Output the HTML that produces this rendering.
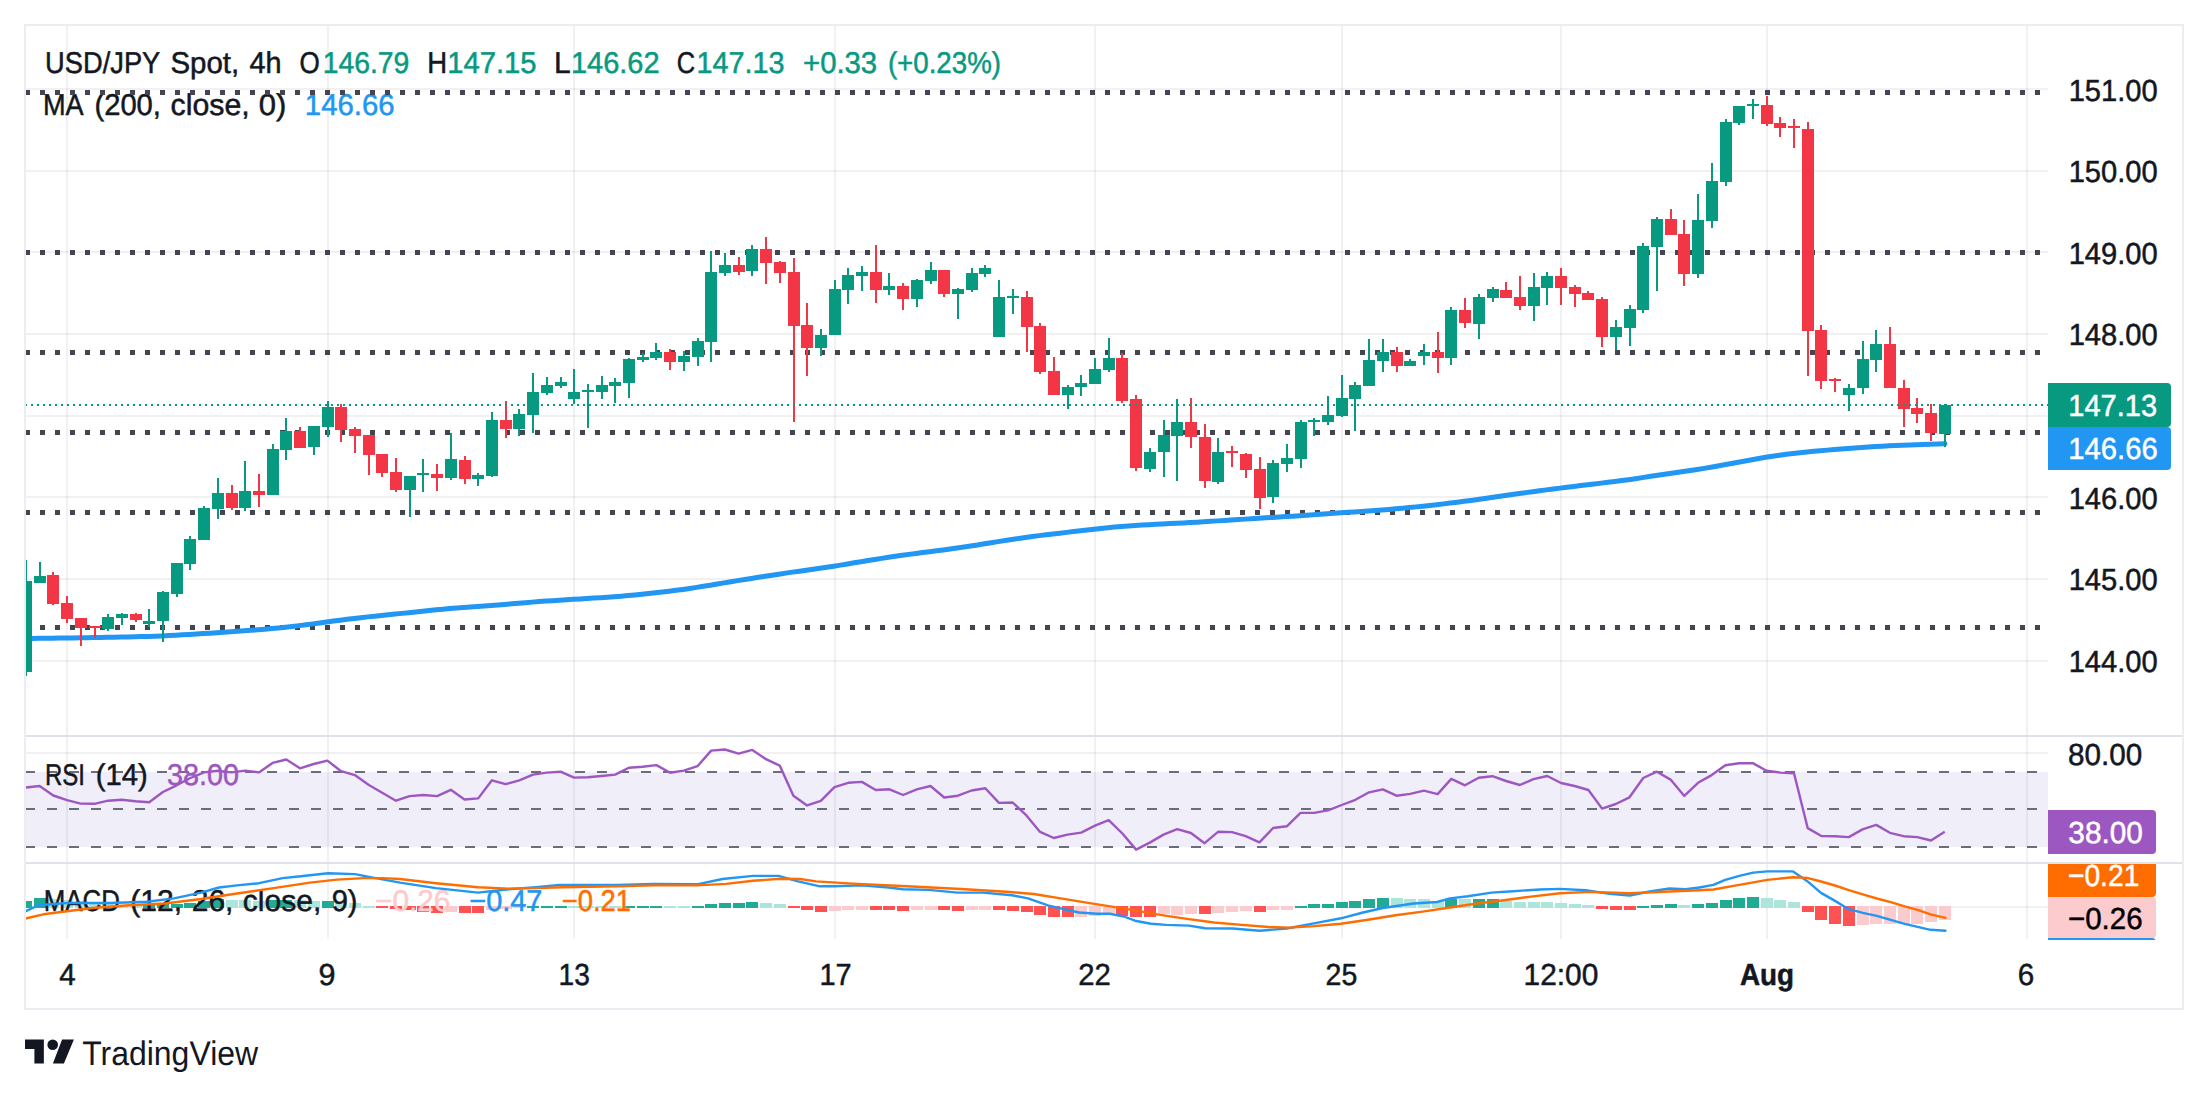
<!DOCTYPE html>
<html lang="en"><head><meta charset="utf-8"><title>USD/JPY Spot 4h chart</title>
<style>html,body{margin:0;padding:0;background:#fff;}svg{display:block;}text{font-family:"Liberation Sans",sans-serif;}</style>
</head><body>
<svg width="2208" height="1097" viewBox="0 0 2208 1097" text-rendering="geometricPrecision">
<rect width="2208" height="1097" fill="#fff"/>
<g id="grid" shape-rendering="crispEdges" fill="#2a2e39" fill-opacity="0.065">
<rect x="66" y="26" width="2" height="913"/>
<rect x="327" y="26" width="2" height="913"/>
<rect x="573" y="26" width="2" height="913"/>
<rect x="834" y="26" width="2" height="913"/>
<rect x="1094" y="26" width="2" height="913"/>
<rect x="1341" y="26" width="2" height="913"/>
<rect x="1560" y="26" width="2" height="913"/>
<rect x="1766" y="26" width="2" height="913"/>
<rect x="2026" y="26" width="2" height="913"/>
<rect x="26" y="88" width="2022" height="2"/>
<rect x="26" y="170" width="2022" height="2"/>
<rect x="26" y="251" width="2022" height="2"/>
<rect x="26" y="333" width="2022" height="2"/>
<rect x="26" y="415" width="2022" height="2"/>
<rect x="26" y="496" width="2022" height="2"/>
<rect x="26" y="578" width="2022" height="2"/>
<rect x="26" y="660" width="2022" height="2"/>
<rect x="26" y="752" width="2022" height="2"/>
<rect x="26" y="906" width="2022" height="2"/>
</g>
<rect x="26" y="772" width="2022" height="75" fill="#f0eef9" shape-rendering="crispEdges"/>
<g shape-rendering="crispEdges" fill="#2a2e39" fill-opacity="0.065">
<rect x="66" y="772" width="2" height="75"/>
<rect x="327" y="772" width="2" height="75"/>
<rect x="573" y="772" width="2" height="75"/>
<rect x="834" y="772" width="2" height="75"/>
<rect x="1094" y="772" width="2" height="75"/>
<rect x="1341" y="772" width="2" height="75"/>
<rect x="1560" y="772" width="2" height="75"/>
<rect x="1766" y="772" width="2" height="75"/>
<rect x="2026" y="772" width="2" height="75"/>
</g>
<g stroke="#6a6d7b" stroke-width="2" stroke-dasharray="10 12" shape-rendering="crispEdges">
<line x1="25" y1="772" x2="2040" y2="772"/>
<line x1="25" y1="809" x2="2040" y2="809"/>
<line x1="25" y1="847" x2="2040" y2="847"/>
</g>
<g clip-path="url(#pane2)" shape-rendering="crispEdges">
<defs><clipPath id="pane2"><rect x="25" y="864" width="2023" height="75"/></clipPath></defs>
<path fill="#22ab94" d="M20 901h12v7h-12zM34 898h12v10h-12zM143 905h12v3h-12zM157 904h12v4h-12zM171 904h12v4h-12zM184 903h12v5h-12zM198 901h12v7h-12zM212 899h12v9h-12zM267 900h12v8h-12zM280 900h12v8h-12zM322 901h12v7h-12zM527 906h12v2h-12zM541 906h12v2h-12zM555 906h12v2h-12zM623 906h12v2h-12zM637 906h12v2h-12zM650 906h12v2h-12zM692 906h12v2h-12zM705 904h12v4h-12zM719 903h12v5h-12zM733 903h12v5h-12zM746 902h12v6h-12zM1295 906h12v2h-12zM1308 904h12v4h-12zM1322 904h12v4h-12zM1336 902h12v6h-12zM1349 901h12v7h-12zM1363 899h12v9h-12zM1377 898h12v10h-12zM1445 899h12v9h-12zM1473 899h12v9h-12zM1487 899h12v9h-12zM1637 906h12v2h-12zM1651 905h12v3h-12zM1665 904h12v4h-12zM1692 904h12v4h-12zM1706 903h12v5h-12zM1720 900h12v8h-12zM1733 898h12v10h-12zM1747 897h12v11h-12z"/>
<path fill="#ace5dc" d="M47 899h12v9h-12zM61 900h12v8h-12zM75 901h12v7h-12zM89 903h12v5h-12zM102 904h12v4h-12zM116 905h12v3h-12zM130 905h12v3h-12zM226 900h12v8h-12zM239 900h12v8h-12zM253 901h12v7h-12zM294 900h12v8h-12zM308 901h12v7h-12zM335 902h12v6h-12zM349 903h12v5h-12zM363 906h12v2h-12zM568 906h12v2h-12zM582 906h12v2h-12zM596 906h12v2h-12zM609 906h12v2h-12zM664 906h12v2h-12zM678 906h12v2h-12zM760 903h12v5h-12zM774 904h12v4h-12zM1391 898h12v10h-12zM1404 899h12v9h-12zM1418 899h12v9h-12zM1432 901h12v7h-12zM1459 899h12v9h-12zM1500 901h12v7h-12zM1514 902h12v6h-12zM1528 902h12v6h-12zM1541 902h12v6h-12zM1555 903h12v5h-12zM1569 904h12v4h-12zM1582 905h12v3h-12zM1678 905h12v3h-12zM1761 898h12v10h-12zM1774 900h12v8h-12zM1788 902h12v6h-12z"/>
<path fill="#ff5252" d="M376 906h12v2h-12zM390 906h12v3h-12zM404 906h12v4h-12zM417 906h12v6h-12zM431 906h12v7h-12zM459 906h12v7h-12zM472 906h12v7h-12zM788 906h12v2h-12zM801 906h12v4h-12zM815 906h12v6h-12zM870 906h12v4h-12zM883 906h12v4h-12zM897 906h12v5h-12zM938 906h12v4h-12zM952 906h12v5h-12zM993 906h12v4h-12zM1007 906h12v5h-12zM1021 906h12v6h-12zM1034 906h12v9h-12zM1048 906h12v11h-12zM1062 906h12v11h-12zM1116 906h12v10h-12zM1130 906h12v11h-12zM1144 906h12v11h-12zM1199 906h12v8h-12zM1254 906h12v6h-12zM1596 906h12v3h-12zM1610 906h12v4h-12zM1624 906h12v4h-12zM1802 906h12v6h-12zM1815 906h12v14h-12zM1829 906h12v18h-12zM1843 906h12v20h-12z"/>
<path fill="#fccbcd" d="M445 906h12v6h-12zM486 906h12v4h-12zM500 906h12v3h-12zM513 906h12v2h-12zM829 906h12v5h-12zM842 906h12v4h-12zM856 906h12v4h-12zM911 906h12v4h-12zM925 906h12v4h-12zM966 906h12v4h-12zM979 906h12v4h-12zM1075 906h12v11h-12zM1089 906h12v10h-12zM1103 906h12v7h-12zM1158 906h12v8h-12zM1171 906h12v9h-12zM1185 906h12v8h-12zM1212 906h12v7h-12zM1226 906h12v6h-12zM1240 906h12v5h-12zM1267 906h12v4h-12zM1281 906h12v4h-12zM1857 906h12v19h-12zM1870 906h12v18h-12zM1884 906h12v18h-12zM1898 906h12v18h-12zM1911 906h12v18h-12zM1925 906h12v16h-12zM1939 906h12v14h-12z"/>
</g>
<text x="45.10" y="72.6" font-size="30" fill="#131722" stroke="#131722" stroke-width="0.5" textLength="115.20" lengthAdjust="spacingAndGlyphs">USD/JPY</text>
<text x="170.38" y="72.6" font-size="30" fill="#131722" stroke="#131722" stroke-width="0.5" textLength="68.82" lengthAdjust="spacingAndGlyphs">Spot,</text>
<text x="249.55" y="72.6" font-size="30" fill="#131722" stroke="#131722" stroke-width="0.5" textLength="32.07" lengthAdjust="spacingAndGlyphs">4h</text>
<text x="299.38" y="72.6" font-size="30" fill="#131722" stroke="#131722" stroke-width="0.5" textLength="20.25" lengthAdjust="spacingAndGlyphs">O</text>
<text x="322.63" y="72.6" font-size="30" fill="#089981" stroke="#089981" stroke-width="0.5" textLength="86.72" lengthAdjust="spacingAndGlyphs">146.79</text>
<text x="427.35" y="72.6" font-size="30" fill="#131722" stroke="#131722" stroke-width="0.5" textLength="19.90" lengthAdjust="spacingAndGlyphs">H</text>
<text x="447.17" y="72.6" font-size="30" fill="#089981" stroke="#089981" stroke-width="0.5" textLength="89.41" lengthAdjust="spacingAndGlyphs">147.15</text>
<text x="554.06" y="72.6" font-size="30" fill="#131722" stroke="#131722" stroke-width="0.5" textLength="16.69" lengthAdjust="spacingAndGlyphs">L</text>
<text x="570.89" y="72.6" font-size="30" fill="#089981" stroke="#089981" stroke-width="0.5" textLength="88.69" lengthAdjust="spacingAndGlyphs">146.62</text>
<text x="676.81" y="72.6" font-size="30" fill="#131722" stroke="#131722" stroke-width="0.5" textLength="18.37" lengthAdjust="spacingAndGlyphs">C</text>
<text x="696.40" y="72.6" font-size="30" fill="#089981" stroke="#089981" stroke-width="0.5" textLength="88.07" lengthAdjust="spacingAndGlyphs">147.13</text>
<text x="803.03" y="72.6" font-size="30" fill="#089981" stroke="#089981" stroke-width="0.5" textLength="74.16" lengthAdjust="spacingAndGlyphs">+0.33</text>
<text x="887.90" y="72.6" font-size="30" fill="#089981" stroke="#089981" stroke-width="0.5" textLength="113.13" lengthAdjust="spacingAndGlyphs">(+0.23%)</text>
<text x="42.98" y="114.7" font-size="30" fill="#131722" stroke="#131722" stroke-width="0.5" textLength="40.69" lengthAdjust="spacingAndGlyphs">MA</text>
<text x="94.43" y="114.7" font-size="30" fill="#131722" stroke="#131722" stroke-width="0.5" textLength="66.55" lengthAdjust="spacingAndGlyphs">(200,</text>
<text x="170.55" y="114.7" font-size="30" fill="#131722" stroke="#131722" stroke-width="0.5" textLength="79.11" lengthAdjust="spacingAndGlyphs">close,</text>
<text x="258.83" y="114.7" font-size="30" fill="#131722" stroke="#131722" stroke-width="0.5" textLength="27.57" lengthAdjust="spacingAndGlyphs">0)</text>
<text x="304.86" y="114.7" font-size="30" fill="#2196f3" stroke="#2196f3" stroke-width="0.5" textLength="89.83" lengthAdjust="spacingAndGlyphs">146.66</text>
<text x="44.98" y="784.5" font-size="30" fill="#131722" stroke="#131722" stroke-width="0.5" textLength="39.99" lengthAdjust="spacingAndGlyphs">RSI</text>
<text x="95.73" y="784.5" font-size="30" fill="#131722" stroke="#131722" stroke-width="0.5" textLength="51.88" lengthAdjust="spacingAndGlyphs">(14)</text>
<text x="167.10" y="784.5" font-size="30" fill="#9d57c1" stroke="#9d57c1" stroke-width="0.5" textLength="72.02" lengthAdjust="spacingAndGlyphs">38.00</text>
<text x="43.68" y="911.3" font-size="30" fill="#131722" stroke="#131722" stroke-width="0.5" textLength="76.22" lengthAdjust="spacingAndGlyphs">MACD</text>
<text x="130.39" y="911.3" font-size="30" fill="#131722" stroke="#131722" stroke-width="0.5" textLength="51.75" lengthAdjust="spacingAndGlyphs">(12,</text>
<text x="191.80" y="911.3" font-size="30" fill="#131722" stroke="#131722" stroke-width="0.5" textLength="41.64" lengthAdjust="spacingAndGlyphs">26,</text>
<text x="242.76" y="911.3" font-size="30" fill="#131722" stroke="#131722" stroke-width="0.5" textLength="78.48" lengthAdjust="spacingAndGlyphs">close,</text>
<text x="331.64" y="911.3" font-size="30" fill="#131722" stroke="#131722" stroke-width="0.5" textLength="25.87" lengthAdjust="spacingAndGlyphs">9)</text>
<text x="375.10" y="911.3" font-size="30" fill="#fccbcd" stroke="#fccbcd" stroke-width="0.5" textLength="75.30" lengthAdjust="spacingAndGlyphs">−0.26</text>
<text x="469.24" y="911.3" font-size="30" fill="#2196f3" stroke="#2196f3" stroke-width="0.5" textLength="73.23" lengthAdjust="spacingAndGlyphs">−0.47</text>
<text x="561.71" y="911.3" font-size="30" fill="#ff6d00" stroke="#ff6d00" stroke-width="0.5" textLength="69.40" lengthAdjust="spacingAndGlyphs">−0.21</text>
<g fill="#434651" shape-rendering="crispEdges">
<path d="M25 90h5v5h-5zM40 90h5v5h-5zM55 90h5v5h-5zM70 90h5v5h-5zM85 90h5v5h-5zM100 90h5v5h-5zM115 90h5v5h-5zM130 90h5v5h-5zM145 90h5v5h-5zM160 90h5v5h-5zM175 90h5v5h-5zM190 90h5v5h-5zM205 90h5v5h-5zM220 90h5v5h-5zM235 90h5v5h-5zM250 90h5v5h-5zM265 90h5v5h-5zM280 90h5v5h-5zM295 90h5v5h-5zM310 90h5v5h-5zM325 90h5v5h-5zM340 90h5v5h-5zM355 90h5v5h-5zM370 90h5v5h-5zM385 90h5v5h-5zM400 90h5v5h-5zM415 90h5v5h-5zM430 90h5v5h-5zM445 90h5v5h-5zM460 90h5v5h-5zM475 90h5v5h-5zM490 90h5v5h-5zM505 90h5v5h-5zM520 90h5v5h-5zM535 90h5v5h-5zM550 90h5v5h-5zM565 90h5v5h-5zM580 90h5v5h-5zM595 90h5v5h-5zM610 90h5v5h-5zM625 90h5v5h-5zM640 90h5v5h-5zM655 90h5v5h-5zM670 90h5v5h-5zM685 90h5v5h-5zM700 90h5v5h-5zM715 90h5v5h-5zM730 90h5v5h-5zM745 90h5v5h-5zM760 90h5v5h-5zM775 90h5v5h-5zM790 90h5v5h-5zM805 90h5v5h-5zM820 90h5v5h-5zM835 90h5v5h-5zM850 90h5v5h-5zM865 90h5v5h-5zM880 90h5v5h-5zM895 90h5v5h-5zM910 90h5v5h-5zM925 90h5v5h-5zM940 90h5v5h-5zM955 90h5v5h-5zM970 90h5v5h-5zM985 90h5v5h-5zM1000 90h5v5h-5zM1015 90h5v5h-5zM1030 90h5v5h-5zM1045 90h5v5h-5zM1060 90h5v5h-5zM1075 90h5v5h-5zM1090 90h5v5h-5zM1105 90h5v5h-5zM1120 90h5v5h-5zM1135 90h5v5h-5zM1150 90h5v5h-5zM1165 90h5v5h-5zM1180 90h5v5h-5zM1195 90h5v5h-5zM1210 90h5v5h-5zM1225 90h5v5h-5zM1240 90h5v5h-5zM1255 90h5v5h-5zM1270 90h5v5h-5zM1285 90h5v5h-5zM1300 90h5v5h-5zM1315 90h5v5h-5zM1330 90h5v5h-5zM1345 90h5v5h-5zM1360 90h5v5h-5zM1375 90h5v5h-5zM1390 90h5v5h-5zM1405 90h5v5h-5zM1420 90h5v5h-5zM1435 90h5v5h-5zM1450 90h5v5h-5zM1465 90h5v5h-5zM1480 90h5v5h-5zM1495 90h5v5h-5zM1510 90h5v5h-5zM1525 90h5v5h-5zM1540 90h5v5h-5zM1555 90h5v5h-5zM1570 90h5v5h-5zM1585 90h5v5h-5zM1600 90h5v5h-5zM1615 90h5v5h-5zM1630 90h5v5h-5zM1645 90h5v5h-5zM1660 90h5v5h-5zM1675 90h5v5h-5zM1690 90h5v5h-5zM1705 90h5v5h-5zM1720 90h5v5h-5zM1735 90h5v5h-5zM1750 90h5v5h-5zM1765 90h5v5h-5zM1780 90h5v5h-5zM1795 90h5v5h-5zM1810 90h5v5h-5zM1825 90h5v5h-5zM1840 90h5v5h-5zM1855 90h5v5h-5zM1870 90h5v5h-5zM1885 90h5v5h-5zM1900 90h5v5h-5zM1915 90h5v5h-5zM1930 90h5v5h-5zM1945 90h5v5h-5zM1960 90h5v5h-5zM1975 90h5v5h-5zM1990 90h5v5h-5zM2005 90h5v5h-5zM2020 90h5v5h-5zM2035 90h5v5h-5z"/>
<path d="M25 250h5v5h-5zM40 250h5v5h-5zM55 250h5v5h-5zM70 250h5v5h-5zM85 250h5v5h-5zM100 250h5v5h-5zM115 250h5v5h-5zM130 250h5v5h-5zM145 250h5v5h-5zM160 250h5v5h-5zM175 250h5v5h-5zM190 250h5v5h-5zM205 250h5v5h-5zM220 250h5v5h-5zM235 250h5v5h-5zM250 250h5v5h-5zM265 250h5v5h-5zM280 250h5v5h-5zM295 250h5v5h-5zM310 250h5v5h-5zM325 250h5v5h-5zM340 250h5v5h-5zM355 250h5v5h-5zM370 250h5v5h-5zM385 250h5v5h-5zM400 250h5v5h-5zM415 250h5v5h-5zM430 250h5v5h-5zM445 250h5v5h-5zM460 250h5v5h-5zM475 250h5v5h-5zM490 250h5v5h-5zM505 250h5v5h-5zM520 250h5v5h-5zM535 250h5v5h-5zM550 250h5v5h-5zM565 250h5v5h-5zM580 250h5v5h-5zM595 250h5v5h-5zM610 250h5v5h-5zM625 250h5v5h-5zM640 250h5v5h-5zM655 250h5v5h-5zM670 250h5v5h-5zM685 250h5v5h-5zM700 250h5v5h-5zM715 250h5v5h-5zM730 250h5v5h-5zM745 250h5v5h-5zM760 250h5v5h-5zM775 250h5v5h-5zM790 250h5v5h-5zM805 250h5v5h-5zM820 250h5v5h-5zM835 250h5v5h-5zM850 250h5v5h-5zM865 250h5v5h-5zM880 250h5v5h-5zM895 250h5v5h-5zM910 250h5v5h-5zM925 250h5v5h-5zM940 250h5v5h-5zM955 250h5v5h-5zM970 250h5v5h-5zM985 250h5v5h-5zM1000 250h5v5h-5zM1015 250h5v5h-5zM1030 250h5v5h-5zM1045 250h5v5h-5zM1060 250h5v5h-5zM1075 250h5v5h-5zM1090 250h5v5h-5zM1105 250h5v5h-5zM1120 250h5v5h-5zM1135 250h5v5h-5zM1150 250h5v5h-5zM1165 250h5v5h-5zM1180 250h5v5h-5zM1195 250h5v5h-5zM1210 250h5v5h-5zM1225 250h5v5h-5zM1240 250h5v5h-5zM1255 250h5v5h-5zM1270 250h5v5h-5zM1285 250h5v5h-5zM1300 250h5v5h-5zM1315 250h5v5h-5zM1330 250h5v5h-5zM1345 250h5v5h-5zM1360 250h5v5h-5zM1375 250h5v5h-5zM1390 250h5v5h-5zM1405 250h5v5h-5zM1420 250h5v5h-5zM1435 250h5v5h-5zM1450 250h5v5h-5zM1465 250h5v5h-5zM1480 250h5v5h-5zM1495 250h5v5h-5zM1510 250h5v5h-5zM1525 250h5v5h-5zM1540 250h5v5h-5zM1555 250h5v5h-5zM1570 250h5v5h-5zM1585 250h5v5h-5zM1600 250h5v5h-5zM1615 250h5v5h-5zM1630 250h5v5h-5zM1645 250h5v5h-5zM1660 250h5v5h-5zM1675 250h5v5h-5zM1690 250h5v5h-5zM1705 250h5v5h-5zM1720 250h5v5h-5zM1735 250h5v5h-5zM1750 250h5v5h-5zM1765 250h5v5h-5zM1780 250h5v5h-5zM1795 250h5v5h-5zM1810 250h5v5h-5zM1825 250h5v5h-5zM1840 250h5v5h-5zM1855 250h5v5h-5zM1870 250h5v5h-5zM1885 250h5v5h-5zM1900 250h5v5h-5zM1915 250h5v5h-5zM1930 250h5v5h-5zM1945 250h5v5h-5zM1960 250h5v5h-5zM1975 250h5v5h-5zM1990 250h5v5h-5zM2005 250h5v5h-5zM2020 250h5v5h-5zM2035 250h5v5h-5z"/>
<path d="M25 350h5v5h-5zM40 350h5v5h-5zM55 350h5v5h-5zM70 350h5v5h-5zM85 350h5v5h-5zM100 350h5v5h-5zM115 350h5v5h-5zM130 350h5v5h-5zM145 350h5v5h-5zM160 350h5v5h-5zM175 350h5v5h-5zM190 350h5v5h-5zM205 350h5v5h-5zM220 350h5v5h-5zM235 350h5v5h-5zM250 350h5v5h-5zM265 350h5v5h-5zM280 350h5v5h-5zM295 350h5v5h-5zM310 350h5v5h-5zM325 350h5v5h-5zM340 350h5v5h-5zM355 350h5v5h-5zM370 350h5v5h-5zM385 350h5v5h-5zM400 350h5v5h-5zM415 350h5v5h-5zM430 350h5v5h-5zM445 350h5v5h-5zM460 350h5v5h-5zM475 350h5v5h-5zM490 350h5v5h-5zM505 350h5v5h-5zM520 350h5v5h-5zM535 350h5v5h-5zM550 350h5v5h-5zM565 350h5v5h-5zM580 350h5v5h-5zM595 350h5v5h-5zM610 350h5v5h-5zM625 350h5v5h-5zM640 350h5v5h-5zM655 350h5v5h-5zM670 350h5v5h-5zM685 350h5v5h-5zM700 350h5v5h-5zM715 350h5v5h-5zM730 350h5v5h-5zM745 350h5v5h-5zM760 350h5v5h-5zM775 350h5v5h-5zM790 350h5v5h-5zM805 350h5v5h-5zM820 350h5v5h-5zM835 350h5v5h-5zM850 350h5v5h-5zM865 350h5v5h-5zM880 350h5v5h-5zM895 350h5v5h-5zM910 350h5v5h-5zM925 350h5v5h-5zM940 350h5v5h-5zM955 350h5v5h-5zM970 350h5v5h-5zM985 350h5v5h-5zM1000 350h5v5h-5zM1015 350h5v5h-5zM1030 350h5v5h-5zM1045 350h5v5h-5zM1060 350h5v5h-5zM1075 350h5v5h-5zM1090 350h5v5h-5zM1105 350h5v5h-5zM1120 350h5v5h-5zM1135 350h5v5h-5zM1150 350h5v5h-5zM1165 350h5v5h-5zM1180 350h5v5h-5zM1195 350h5v5h-5zM1210 350h5v5h-5zM1225 350h5v5h-5zM1240 350h5v5h-5zM1255 350h5v5h-5zM1270 350h5v5h-5zM1285 350h5v5h-5zM1300 350h5v5h-5zM1315 350h5v5h-5zM1330 350h5v5h-5zM1345 350h5v5h-5zM1360 350h5v5h-5zM1375 350h5v5h-5zM1390 350h5v5h-5zM1405 350h5v5h-5zM1420 350h5v5h-5zM1435 350h5v5h-5zM1450 350h5v5h-5zM1465 350h5v5h-5zM1480 350h5v5h-5zM1495 350h5v5h-5zM1510 350h5v5h-5zM1525 350h5v5h-5zM1540 350h5v5h-5zM1555 350h5v5h-5zM1570 350h5v5h-5zM1585 350h5v5h-5zM1600 350h5v5h-5zM1615 350h5v5h-5zM1630 350h5v5h-5zM1645 350h5v5h-5zM1660 350h5v5h-5zM1675 350h5v5h-5zM1690 350h5v5h-5zM1705 350h5v5h-5zM1720 350h5v5h-5zM1735 350h5v5h-5zM1750 350h5v5h-5zM1765 350h5v5h-5zM1780 350h5v5h-5zM1795 350h5v5h-5zM1810 350h5v5h-5zM1825 350h5v5h-5zM1840 350h5v5h-5zM1855 350h5v5h-5zM1870 350h5v5h-5zM1885 350h5v5h-5zM1900 350h5v5h-5zM1915 350h5v5h-5zM1930 350h5v5h-5zM1945 350h5v5h-5zM1960 350h5v5h-5zM1975 350h5v5h-5zM1990 350h5v5h-5zM2005 350h5v5h-5zM2020 350h5v5h-5zM2035 350h5v5h-5z"/>
<path d="M25 430h5v5h-5zM40 430h5v5h-5zM55 430h5v5h-5zM70 430h5v5h-5zM85 430h5v5h-5zM100 430h5v5h-5zM115 430h5v5h-5zM130 430h5v5h-5zM145 430h5v5h-5zM160 430h5v5h-5zM175 430h5v5h-5zM190 430h5v5h-5zM205 430h5v5h-5zM220 430h5v5h-5zM235 430h5v5h-5zM250 430h5v5h-5zM265 430h5v5h-5zM280 430h5v5h-5zM295 430h5v5h-5zM310 430h5v5h-5zM325 430h5v5h-5zM340 430h5v5h-5zM355 430h5v5h-5zM370 430h5v5h-5zM385 430h5v5h-5zM400 430h5v5h-5zM415 430h5v5h-5zM430 430h5v5h-5zM445 430h5v5h-5zM460 430h5v5h-5zM475 430h5v5h-5zM490 430h5v5h-5zM505 430h5v5h-5zM520 430h5v5h-5zM535 430h5v5h-5zM550 430h5v5h-5zM565 430h5v5h-5zM580 430h5v5h-5zM595 430h5v5h-5zM610 430h5v5h-5zM625 430h5v5h-5zM640 430h5v5h-5zM655 430h5v5h-5zM670 430h5v5h-5zM685 430h5v5h-5zM700 430h5v5h-5zM715 430h5v5h-5zM730 430h5v5h-5zM745 430h5v5h-5zM760 430h5v5h-5zM775 430h5v5h-5zM790 430h5v5h-5zM805 430h5v5h-5zM820 430h5v5h-5zM835 430h5v5h-5zM850 430h5v5h-5zM865 430h5v5h-5zM880 430h5v5h-5zM895 430h5v5h-5zM910 430h5v5h-5zM925 430h5v5h-5zM940 430h5v5h-5zM955 430h5v5h-5zM970 430h5v5h-5zM985 430h5v5h-5zM1000 430h5v5h-5zM1015 430h5v5h-5zM1030 430h5v5h-5zM1045 430h5v5h-5zM1060 430h5v5h-5zM1075 430h5v5h-5zM1090 430h5v5h-5zM1105 430h5v5h-5zM1120 430h5v5h-5zM1135 430h5v5h-5zM1150 430h5v5h-5zM1165 430h5v5h-5zM1180 430h5v5h-5zM1195 430h5v5h-5zM1210 430h5v5h-5zM1225 430h5v5h-5zM1240 430h5v5h-5zM1255 430h5v5h-5zM1270 430h5v5h-5zM1285 430h5v5h-5zM1300 430h5v5h-5zM1315 430h5v5h-5zM1330 430h5v5h-5zM1345 430h5v5h-5zM1360 430h5v5h-5zM1375 430h5v5h-5zM1390 430h5v5h-5zM1405 430h5v5h-5zM1420 430h5v5h-5zM1435 430h5v5h-5zM1450 430h5v5h-5zM1465 430h5v5h-5zM1480 430h5v5h-5zM1495 430h5v5h-5zM1510 430h5v5h-5zM1525 430h5v5h-5zM1540 430h5v5h-5zM1555 430h5v5h-5zM1570 430h5v5h-5zM1585 430h5v5h-5zM1600 430h5v5h-5zM1615 430h5v5h-5zM1630 430h5v5h-5zM1645 430h5v5h-5zM1660 430h5v5h-5zM1675 430h5v5h-5zM1690 430h5v5h-5zM1705 430h5v5h-5zM1720 430h5v5h-5zM1735 430h5v5h-5zM1750 430h5v5h-5zM1765 430h5v5h-5zM1780 430h5v5h-5zM1795 430h5v5h-5zM1810 430h5v5h-5zM1825 430h5v5h-5zM1840 430h5v5h-5zM1855 430h5v5h-5zM1870 430h5v5h-5zM1885 430h5v5h-5zM1900 430h5v5h-5zM1915 430h5v5h-5zM1930 430h5v5h-5zM1945 430h5v5h-5zM1960 430h5v5h-5zM1975 430h5v5h-5zM1990 430h5v5h-5zM2005 430h5v5h-5zM2020 430h5v5h-5zM2035 430h5v5h-5z"/>
<path d="M25 510h5v5h-5zM40 510h5v5h-5zM55 510h5v5h-5zM70 510h5v5h-5zM85 510h5v5h-5zM100 510h5v5h-5zM115 510h5v5h-5zM130 510h5v5h-5zM145 510h5v5h-5zM160 510h5v5h-5zM175 510h5v5h-5zM190 510h5v5h-5zM205 510h5v5h-5zM220 510h5v5h-5zM235 510h5v5h-5zM250 510h5v5h-5zM265 510h5v5h-5zM280 510h5v5h-5zM295 510h5v5h-5zM310 510h5v5h-5zM325 510h5v5h-5zM340 510h5v5h-5zM355 510h5v5h-5zM370 510h5v5h-5zM385 510h5v5h-5zM400 510h5v5h-5zM415 510h5v5h-5zM430 510h5v5h-5zM445 510h5v5h-5zM460 510h5v5h-5zM475 510h5v5h-5zM490 510h5v5h-5zM505 510h5v5h-5zM520 510h5v5h-5zM535 510h5v5h-5zM550 510h5v5h-5zM565 510h5v5h-5zM580 510h5v5h-5zM595 510h5v5h-5zM610 510h5v5h-5zM625 510h5v5h-5zM640 510h5v5h-5zM655 510h5v5h-5zM670 510h5v5h-5zM685 510h5v5h-5zM700 510h5v5h-5zM715 510h5v5h-5zM730 510h5v5h-5zM745 510h5v5h-5zM760 510h5v5h-5zM775 510h5v5h-5zM790 510h5v5h-5zM805 510h5v5h-5zM820 510h5v5h-5zM835 510h5v5h-5zM850 510h5v5h-5zM865 510h5v5h-5zM880 510h5v5h-5zM895 510h5v5h-5zM910 510h5v5h-5zM925 510h5v5h-5zM940 510h5v5h-5zM955 510h5v5h-5zM970 510h5v5h-5zM985 510h5v5h-5zM1000 510h5v5h-5zM1015 510h5v5h-5zM1030 510h5v5h-5zM1045 510h5v5h-5zM1060 510h5v5h-5zM1075 510h5v5h-5zM1090 510h5v5h-5zM1105 510h5v5h-5zM1120 510h5v5h-5zM1135 510h5v5h-5zM1150 510h5v5h-5zM1165 510h5v5h-5zM1180 510h5v5h-5zM1195 510h5v5h-5zM1210 510h5v5h-5zM1225 510h5v5h-5zM1240 510h5v5h-5zM1255 510h5v5h-5zM1270 510h5v5h-5zM1285 510h5v5h-5zM1300 510h5v5h-5zM1315 510h5v5h-5zM1330 510h5v5h-5zM1345 510h5v5h-5zM1360 510h5v5h-5zM1375 510h5v5h-5zM1390 510h5v5h-5zM1405 510h5v5h-5zM1420 510h5v5h-5zM1435 510h5v5h-5zM1450 510h5v5h-5zM1465 510h5v5h-5zM1480 510h5v5h-5zM1495 510h5v5h-5zM1510 510h5v5h-5zM1525 510h5v5h-5zM1540 510h5v5h-5zM1555 510h5v5h-5zM1570 510h5v5h-5zM1585 510h5v5h-5zM1600 510h5v5h-5zM1615 510h5v5h-5zM1630 510h5v5h-5zM1645 510h5v5h-5zM1660 510h5v5h-5zM1675 510h5v5h-5zM1690 510h5v5h-5zM1705 510h5v5h-5zM1720 510h5v5h-5zM1735 510h5v5h-5zM1750 510h5v5h-5zM1765 510h5v5h-5zM1780 510h5v5h-5zM1795 510h5v5h-5zM1810 510h5v5h-5zM1825 510h5v5h-5zM1840 510h5v5h-5zM1855 510h5v5h-5zM1870 510h5v5h-5zM1885 510h5v5h-5zM1900 510h5v5h-5zM1915 510h5v5h-5zM1930 510h5v5h-5zM1945 510h5v5h-5zM1960 510h5v5h-5zM1975 510h5v5h-5zM1990 510h5v5h-5zM2005 510h5v5h-5zM2020 510h5v5h-5zM2035 510h5v5h-5z"/>
<path d="M25 625h5v5h-5zM40 625h5v5h-5zM55 625h5v5h-5zM70 625h5v5h-5zM85 625h5v5h-5zM100 625h5v5h-5zM115 625h5v5h-5zM130 625h5v5h-5zM145 625h5v5h-5zM160 625h5v5h-5zM175 625h5v5h-5zM190 625h5v5h-5zM205 625h5v5h-5zM220 625h5v5h-5zM235 625h5v5h-5zM250 625h5v5h-5zM265 625h5v5h-5zM280 625h5v5h-5zM295 625h5v5h-5zM310 625h5v5h-5zM325 625h5v5h-5zM340 625h5v5h-5zM355 625h5v5h-5zM370 625h5v5h-5zM385 625h5v5h-5zM400 625h5v5h-5zM415 625h5v5h-5zM430 625h5v5h-5zM445 625h5v5h-5zM460 625h5v5h-5zM475 625h5v5h-5zM490 625h5v5h-5zM505 625h5v5h-5zM520 625h5v5h-5zM535 625h5v5h-5zM550 625h5v5h-5zM565 625h5v5h-5zM580 625h5v5h-5zM595 625h5v5h-5zM610 625h5v5h-5zM625 625h5v5h-5zM640 625h5v5h-5zM655 625h5v5h-5zM670 625h5v5h-5zM685 625h5v5h-5zM700 625h5v5h-5zM715 625h5v5h-5zM730 625h5v5h-5zM745 625h5v5h-5zM760 625h5v5h-5zM775 625h5v5h-5zM790 625h5v5h-5zM805 625h5v5h-5zM820 625h5v5h-5zM835 625h5v5h-5zM850 625h5v5h-5zM865 625h5v5h-5zM880 625h5v5h-5zM895 625h5v5h-5zM910 625h5v5h-5zM925 625h5v5h-5zM940 625h5v5h-5zM955 625h5v5h-5zM970 625h5v5h-5zM985 625h5v5h-5zM1000 625h5v5h-5zM1015 625h5v5h-5zM1030 625h5v5h-5zM1045 625h5v5h-5zM1060 625h5v5h-5zM1075 625h5v5h-5zM1090 625h5v5h-5zM1105 625h5v5h-5zM1120 625h5v5h-5zM1135 625h5v5h-5zM1150 625h5v5h-5zM1165 625h5v5h-5zM1180 625h5v5h-5zM1195 625h5v5h-5zM1210 625h5v5h-5zM1225 625h5v5h-5zM1240 625h5v5h-5zM1255 625h5v5h-5zM1270 625h5v5h-5zM1285 625h5v5h-5zM1300 625h5v5h-5zM1315 625h5v5h-5zM1330 625h5v5h-5zM1345 625h5v5h-5zM1360 625h5v5h-5zM1375 625h5v5h-5zM1390 625h5v5h-5zM1405 625h5v5h-5zM1420 625h5v5h-5zM1435 625h5v5h-5zM1450 625h5v5h-5zM1465 625h5v5h-5zM1480 625h5v5h-5zM1495 625h5v5h-5zM1510 625h5v5h-5zM1525 625h5v5h-5zM1540 625h5v5h-5zM1555 625h5v5h-5zM1570 625h5v5h-5zM1585 625h5v5h-5zM1600 625h5v5h-5zM1615 625h5v5h-5zM1630 625h5v5h-5zM1645 625h5v5h-5zM1660 625h5v5h-5zM1675 625h5v5h-5zM1690 625h5v5h-5zM1705 625h5v5h-5zM1720 625h5v5h-5zM1735 625h5v5h-5zM1750 625h5v5h-5zM1765 625h5v5h-5zM1780 625h5v5h-5zM1795 625h5v5h-5zM1810 625h5v5h-5zM1825 625h5v5h-5zM1840 625h5v5h-5zM1855 625h5v5h-5zM1870 625h5v5h-5zM1885 625h5v5h-5zM1900 625h5v5h-5zM1915 625h5v5h-5zM1930 625h5v5h-5zM1945 625h5v5h-5zM1960 625h5v5h-5zM1975 625h5v5h-5zM1990 625h5v5h-5zM2005 625h5v5h-5zM2020 625h5v5h-5zM2035 625h5v5h-5z"/>
</g>
<defs><clipPath id="pane"><rect x="26" y="26" width="2022" height="709"/></clipPath></defs>
<polyline clip-path="url(#pane)" points="25.0,638.50 31.9,638.43 38.7,638.36 45.6,638.28 52.4,638.20 59.3,638.10 66.1,638.01 73.0,637.91 79.8,637.81 86.7,637.70 93.5,637.58 100.4,637.46 107.2,637.34 114.1,637.20 120.9,637.07 127.8,636.92 134.6,636.77 141.5,636.59 148.4,636.40 155.2,636.16 162.1,635.88 168.9,635.56 175.8,635.21 182.6,634.83 189.5,634.43 196.3,634.02 203.2,633.60 210.0,633.18 216.9,632.74 223.7,632.29 230.6,631.82 237.4,631.34 244.3,630.83 251.1,630.31 258.0,629.77 264.9,629.20 271.7,628.58 278.6,627.92 285.4,627.21 292.3,626.45 299.1,625.63 306.0,624.77 312.8,623.87 319.7,622.94 326.5,622.01 333.4,621.09 340.2,620.18 347.1,619.30 353.9,618.46 360.8,617.66 367.7,616.89 374.5,616.15 381.4,615.43 388.2,614.74 395.1,614.05 401.9,613.37 408.8,612.67 415.6,611.95 422.5,611.23 429.3,610.51 436.2,609.82 443.0,609.17 449.9,608.58 456.7,608.04 463.6,607.53 470.4,607.04 477.3,606.55 484.2,606.05 491.0,605.53 497.9,604.98 504.7,604.42 511.6,603.84 518.4,603.26 525.3,602.69 532.1,602.13 539.0,601.60 545.8,601.10 552.7,600.64 559.5,600.19 566.4,599.77 573.2,599.35 580.1,598.93 586.9,598.51 593.8,598.08 600.7,597.64 607.5,597.18 614.4,596.70 621.2,596.18 628.1,595.61 634.9,594.99 641.8,594.31 648.6,593.58 655.5,592.81 662.3,592.01 669.2,591.18 676.0,590.32 682.9,589.41 689.7,588.44 696.6,587.40 703.4,586.30 710.3,585.16 717.2,584.01 724.0,582.86 730.9,581.72 737.7,580.60 744.6,579.50 751.4,578.41 758.3,577.32 765.1,576.25 772.0,575.19 778.8,574.16 785.7,573.14 792.5,572.15 799.4,571.17 806.2,570.19 813.1,569.22 819.9,568.23 826.8,567.23 833.7,566.18 840.5,565.10 847.4,563.98 854.2,562.84 861.1,561.69 867.9,560.55 874.8,559.43 881.6,558.35 888.5,557.30 895.3,556.29 902.2,555.31 909.0,554.37 915.9,553.45 922.7,552.55 929.6,551.66 936.4,550.79 943.3,549.91 950.2,549.01 957.0,548.08 963.9,547.09 970.7,546.05 977.6,544.96 984.4,543.84 991.3,542.71 998.1,541.60 1005.0,540.50 1011.8,539.45 1018.7,538.43 1025.5,537.46 1032.4,536.53 1039.2,535.64 1046.1,534.79 1053.0,533.96 1059.8,533.16 1066.7,532.37 1073.5,531.58 1080.4,530.80 1087.2,530.01 1094.1,529.23 1100.9,528.48 1107.8,527.76 1114.6,527.11 1121.5,526.52 1128.3,526.00 1135.2,525.52 1142.0,525.09 1148.9,524.69 1155.7,524.32 1162.6,523.96 1169.5,523.60 1176.3,523.25 1183.2,522.89 1190.0,522.52 1196.9,522.14 1203.7,521.74 1210.6,521.32 1217.4,520.88 1224.3,520.44 1231.1,520.00 1238.0,519.56 1244.8,519.12 1251.7,518.70 1258.5,518.28 1265.4,517.86 1272.2,517.45 1279.1,517.02 1286.0,516.59 1292.8,516.14 1299.7,515.67 1306.5,515.19 1313.4,514.70 1320.2,514.21 1327.1,513.72 1333.9,513.25 1340.8,512.79 1347.6,512.35 1354.5,511.90 1361.3,511.45 1368.2,510.99 1375.0,510.50 1381.9,509.99 1388.7,509.44 1395.6,508.85 1402.5,508.23 1409.3,507.57 1416.2,506.88 1423.0,506.17 1429.9,505.43 1436.7,504.67 1443.6,503.89 1450.4,503.07 1457.3,502.23 1464.1,501.34 1471.0,500.43 1477.8,499.48 1484.7,498.51 1491.5,497.53 1498.4,496.53 1505.2,495.53 1512.1,494.55 1519.0,493.58 1525.8,492.63 1532.7,491.70 1539.5,490.79 1546.4,489.89 1553.2,489.00 1560.1,488.13 1566.9,487.26 1573.8,486.40 1580.6,485.56 1587.5,484.74 1594.3,483.93 1601.2,483.12 1608.0,482.30 1614.9,481.46 1621.7,480.58 1628.6,479.65 1635.5,478.66 1642.3,477.63 1649.2,476.58 1656.0,475.53 1662.9,474.50 1669.7,473.50 1676.6,472.51 1683.4,471.53 1690.3,470.52 1697.1,469.48 1704.0,468.39 1710.8,467.24 1717.7,466.04 1724.5,464.80 1731.4,463.52 1738.3,462.22 1745.1,460.94 1752.0,459.68 1758.8,458.47 1765.7,457.32 1772.5,456.25 1779.4,455.24 1786.2,454.30 1793.1,453.44 1799.9,452.66 1806.8,451.95 1813.6,451.30 1820.5,450.70 1827.3,450.12 1834.2,449.56 1841.0,449.02 1847.9,448.49 1854.8,447.98 1861.6,447.48 1868.5,447.01 1875.3,446.58 1882.2,446.18 1889.0,445.82 1895.9,445.49 1902.7,445.20 1909.6,444.93 1916.4,444.68 1923.3,444.43 1930.1,444.19 1937.0,443.94 1945.0,443.70" fill="none" stroke="#2196f3" stroke-width="5" stroke-linejoin="round" stroke-linecap="round"/>
<g clip-path="url(#pane)" shape-rendering="crispEdges">
<path fill="#089981" d="M25 560h2v116h-2zM20 581h12v91h-12zM39 562h2v21h-2zM34 576h12v7h-12zM107 614h2v17h-2zM102 617h12v12h-12zM121 613h2v12h-2zM116 614h12v4h-12zM148 609h2v18h-2zM143 621h12v3h-12zM162 591h2v51h-2zM157 592h12v29h-12zM176 563h2v34h-2zM171 563h12v31h-12zM189 536h2v34h-2zM184 539h12v25h-12zM203 506h2v34h-2zM198 508h12v32h-12zM217 478h2v41h-2zM212 493h12v16h-12zM244 461h2v50h-2zM239 491h12v17h-12zM272 444h2v51h-2zM267 449h12v46h-12zM285 418h2v42h-2zM280 431h12v19h-12zM313 426h2v29h-2zM308 426h12v21h-12zM327 401h2v36h-2zM322 407h12v20h-12zM409 476h2v41h-2zM404 476h12v14h-12zM422 459h2v33h-2zM417 473h12v2h-12zM450 433h2v47h-2zM445 459h12v19h-12zM477 473h2v13h-2zM472 475h12v4h-12zM491 412h2v65h-2zM486 420h12v56h-12zM518 409h2v27h-2zM513 414h12v15h-12zM532 373h2v60h-2zM527 392h12v23h-12zM546 377h2v18h-2zM541 385h12v8h-12zM560 377h2v11h-2zM555 382h12v4h-12zM573 369h2v35h-2zM568 392h12v7h-12zM587 384h2v44h-2zM582 390h12v2h-12zM601 376h2v23h-2zM596 385h12v7h-12zM614 378h2v25h-2zM609 382h12v4h-12zM628 358h2v40h-2zM623 359h12v24h-12zM642 353h2v9h-2zM637 357h12v3h-12zM655 343h2v17h-2zM650 352h12v6h-12zM683 351h2v20h-2zM678 356h12v6h-12zM697 338h2v28h-2zM692 341h12v16h-12zM710 251h2v111h-2zM705 272h12v70h-12zM724 253h2v23h-2zM719 265h12v8h-12zM751 245h2v31h-2zM746 249h12v22h-12zM820 329h2v27h-2zM815 335h12v13h-12zM834 280h2v55h-2zM829 289h12v46h-12zM847 268h2v36h-2zM842 275h12v15h-12zM861 266h2v25h-2zM856 272h12v4h-12zM888 273h2v22h-2zM883 286h12v4h-12zM916 279h2v28h-2zM911 280h12v19h-12zM930 262h2v22h-2zM925 270h12v11h-12zM957 288h2v31h-2zM952 289h12v5h-12zM971 268h2v24h-2zM966 273h12v17h-12zM984 265h2v12h-2zM979 268h12v6h-12zM998 280h2v57h-2zM993 297h12v40h-12zM1012 289h2v25h-2zM1007 296h12v2h-12zM1067 385h2v24h-2zM1062 387h12v8h-12zM1080 375h2v21h-2zM1075 383h12v4h-12zM1094 358h2v26h-2zM1089 369h12v15h-12zM1108 338h2v34h-2zM1103 358h12v12h-12zM1149 448h2v24h-2zM1144 452h12v17h-12zM1163 420h2v57h-2zM1158 435h12v17h-12zM1176 399h2v82h-2zM1171 422h12v14h-12zM1217 438h2v46h-2zM1212 452h12v30h-12zM1272 460h2v43h-2zM1267 463h12v34h-12zM1286 444h2v28h-2zM1281 458h12v6h-12zM1300 420h2v48h-2zM1295 422h12v37h-12zM1313 418h2v18h-2zM1308 420h12v2h-12zM1327 396h2v29h-2zM1322 415h12v7h-12zM1341 375h2v42h-2zM1336 398h12v18h-12zM1354 382h2v49h-2zM1349 385h12v14h-12zM1368 339h2v47h-2zM1363 360h12v26h-12zM1382 339h2v33h-2zM1377 352h12v9h-12zM1409 359h2v7h-2zM1404 361h12v5h-12zM1423 344h2v21h-2zM1418 352h12v4h-12zM1450 307h2v58h-2zM1445 310h12v48h-12zM1478 294h2v45h-2zM1473 297h12v27h-12zM1492 287h2v15h-2zM1487 289h12v9h-12zM1533 273h2v48h-2zM1528 287h12v19h-12zM1546 272h2v33h-2zM1541 276h12v12h-12zM1615 320h2v30h-2zM1610 327h12v10h-12zM1629 305h2v41h-2zM1624 309h12v19h-12zM1642 243h2v70h-2zM1637 246h12v64h-12zM1656 217h2v74h-2zM1651 219h12v28h-12zM1697 194h2v84h-2zM1692 220h12v54h-12zM1711 163h2v65h-2zM1706 181h12v40h-12zM1725 119h2v67h-2zM1720 122h12v60h-12zM1738 106h2v19h-2zM1733 106h12v17h-12zM1752 99h2v20h-2zM1747 104h12v2h-12zM1848 384h2v27h-2zM1843 388h12v7h-12zM1862 341h2v53h-2zM1857 359h12v29h-12zM1875 330h2v42h-2zM1870 344h12v16h-12zM1944 404h2v43h-2zM1939 405h12v29h-12z"/>
<path fill="#f23645" d="M52 572h2v33h-2zM47 575h12v29h-12zM66 596h2v27h-2zM61 603h12v16h-12zM80 618h2v28h-2zM75 618h12v10h-12zM94 626h2v12h-2zM89 626h12v2h-12zM135 613h2v9h-2zM130 614h12v6h-12zM231 485h2v25h-2zM226 493h12v15h-12zM258 474h2v33h-2zM253 491h12v4h-12zM299 427h2v21h-2zM294 431h12v17h-12zM340 404h2v38h-2zM335 407h12v23h-12zM354 427h2v26h-2zM349 429h12v7h-12zM368 435h2v40h-2zM363 435h12v20h-12zM381 454h2v23h-2zM376 454h12v19h-12zM395 458h2v34h-2zM390 472h12v18h-12zM436 464h2v27h-2zM431 474h12v4h-12zM464 456h2v28h-2zM459 460h12v19h-12zM505 401h2v37h-2zM500 420h12v9h-12zM669 349h2v21h-2zM664 352h12v10h-12zM738 257h2v18h-2zM733 265h12v7h-12zM765 237h2v47h-2zM760 249h12v14h-12zM779 261h2v22h-2zM774 262h12v11h-12zM793 258h2v164h-2zM788 272h12v54h-12zM806 303h2v73h-2zM801 325h12v23h-12zM875 245h2v58h-2zM870 272h12v18h-12zM902 283h2v27h-2zM897 286h12v13h-12zM943 270h2v27h-2zM938 270h12v24h-12zM1026 291h2v61h-2zM1021 297h12v30h-12zM1039 323h2v51h-2zM1034 326h12v46h-12zM1053 357h2v38h-2zM1048 371h12v24h-12zM1121 353h2v50h-2zM1116 358h12v43h-12zM1135 395h2v76h-2zM1130 399h12v69h-12zM1190 398h2v50h-2zM1185 422h12v15h-12zM1204 424h2v64h-2zM1199 437h12v44h-12zM1231 446h2v21h-2zM1226 451h12v2h-12zM1245 453h2v25h-2zM1240 454h12v16h-12zM1259 457h2v52h-2zM1254 469h12v29h-12zM1396 347h2v25h-2zM1391 352h12v14h-12zM1437 332h2v41h-2zM1432 352h12v6h-12zM1464 298h2v30h-2zM1459 310h12v13h-12zM1505 282h2v16h-2zM1500 290h12v8h-12zM1519 276h2v34h-2zM1514 297h12v9h-12zM1560 268h2v37h-2zM1555 276h12v12h-12zM1574 285h2v22h-2zM1569 287h12v7h-12zM1587 291h2v9h-2zM1582 293h12v7h-12zM1601 297h2v50h-2zM1596 299h12v38h-12zM1670 209h2v26h-2zM1665 219h12v16h-12zM1683 220h2v66h-2zM1678 234h12v40h-12zM1766 96h2v30h-2zM1761 105h12v19h-12zM1779 117h2v20h-2zM1774 123h12v5h-12zM1793 119h2v29h-2zM1788 126h12v2h-12zM1807 122h2v254h-2zM1802 129h12v202h-12zM1820 325h2v64h-2zM1815 330h12v51h-12zM1834 378h2v14h-2zM1829 379h12v2h-12zM1889 327h2v61h-2zM1884 344h12v44h-12zM1903 380h2v47h-2zM1898 388h12v21h-12zM1916 398h2v25h-2zM1911 408h12v6h-12zM1930 404h2v37h-2zM1925 413h12v20h-12z"/>
</g>
<path fill="#089981" shape-rendering="crispEdges" d="M25 404h2v2h-2zM31 404h2v2h-2zM37 404h2v2h-2zM43 404h2v2h-2zM49 404h2v2h-2zM55 404h2v2h-2zM61 404h2v2h-2zM67 404h2v2h-2zM73 404h2v2h-2zM79 404h2v2h-2zM85 404h2v2h-2zM91 404h2v2h-2zM97 404h2v2h-2zM103 404h2v2h-2zM109 404h2v2h-2zM115 404h2v2h-2zM121 404h2v2h-2zM127 404h2v2h-2zM133 404h2v2h-2zM139 404h2v2h-2zM145 404h2v2h-2zM151 404h2v2h-2zM157 404h2v2h-2zM163 404h2v2h-2zM169 404h2v2h-2zM175 404h2v2h-2zM181 404h2v2h-2zM187 404h2v2h-2zM193 404h2v2h-2zM199 404h2v2h-2zM205 404h2v2h-2zM211 404h2v2h-2zM217 404h2v2h-2zM223 404h2v2h-2zM229 404h2v2h-2zM235 404h2v2h-2zM241 404h2v2h-2zM247 404h2v2h-2zM253 404h2v2h-2zM259 404h2v2h-2zM265 404h2v2h-2zM271 404h2v2h-2zM277 404h2v2h-2zM283 404h2v2h-2zM289 404h2v2h-2zM295 404h2v2h-2zM301 404h2v2h-2zM307 404h2v2h-2zM313 404h2v2h-2zM319 404h2v2h-2zM325 404h2v2h-2zM331 404h2v2h-2zM337 404h2v2h-2zM343 404h2v2h-2zM349 404h2v2h-2zM355 404h2v2h-2zM361 404h2v2h-2zM367 404h2v2h-2zM373 404h2v2h-2zM379 404h2v2h-2zM385 404h2v2h-2zM391 404h2v2h-2zM397 404h2v2h-2zM403 404h2v2h-2zM409 404h2v2h-2zM415 404h2v2h-2zM421 404h2v2h-2zM427 404h2v2h-2zM433 404h2v2h-2zM439 404h2v2h-2zM445 404h2v2h-2zM451 404h2v2h-2zM457 404h2v2h-2zM463 404h2v2h-2zM469 404h2v2h-2zM475 404h2v2h-2zM481 404h2v2h-2zM487 404h2v2h-2zM493 404h2v2h-2zM499 404h2v2h-2zM505 404h2v2h-2zM511 404h2v2h-2zM517 404h2v2h-2zM523 404h2v2h-2zM529 404h2v2h-2zM535 404h2v2h-2zM541 404h2v2h-2zM547 404h2v2h-2zM553 404h2v2h-2zM559 404h2v2h-2zM565 404h2v2h-2zM571 404h2v2h-2zM577 404h2v2h-2zM583 404h2v2h-2zM589 404h2v2h-2zM595 404h2v2h-2zM601 404h2v2h-2zM607 404h2v2h-2zM613 404h2v2h-2zM619 404h2v2h-2zM625 404h2v2h-2zM631 404h2v2h-2zM637 404h2v2h-2zM643 404h2v2h-2zM649 404h2v2h-2zM655 404h2v2h-2zM661 404h2v2h-2zM667 404h2v2h-2zM673 404h2v2h-2zM679 404h2v2h-2zM685 404h2v2h-2zM691 404h2v2h-2zM697 404h2v2h-2zM703 404h2v2h-2zM709 404h2v2h-2zM715 404h2v2h-2zM721 404h2v2h-2zM727 404h2v2h-2zM733 404h2v2h-2zM739 404h2v2h-2zM745 404h2v2h-2zM751 404h2v2h-2zM757 404h2v2h-2zM763 404h2v2h-2zM769 404h2v2h-2zM775 404h2v2h-2zM781 404h2v2h-2zM787 404h2v2h-2zM793 404h2v2h-2zM799 404h2v2h-2zM805 404h2v2h-2zM811 404h2v2h-2zM817 404h2v2h-2zM823 404h2v2h-2zM829 404h2v2h-2zM835 404h2v2h-2zM841 404h2v2h-2zM847 404h2v2h-2zM853 404h2v2h-2zM859 404h2v2h-2zM865 404h2v2h-2zM871 404h2v2h-2zM877 404h2v2h-2zM883 404h2v2h-2zM889 404h2v2h-2zM895 404h2v2h-2zM901 404h2v2h-2zM907 404h2v2h-2zM913 404h2v2h-2zM919 404h2v2h-2zM925 404h2v2h-2zM931 404h2v2h-2zM937 404h2v2h-2zM943 404h2v2h-2zM949 404h2v2h-2zM955 404h2v2h-2zM961 404h2v2h-2zM967 404h2v2h-2zM973 404h2v2h-2zM979 404h2v2h-2zM985 404h2v2h-2zM991 404h2v2h-2zM997 404h2v2h-2zM1003 404h2v2h-2zM1009 404h2v2h-2zM1015 404h2v2h-2zM1021 404h2v2h-2zM1027 404h2v2h-2zM1033 404h2v2h-2zM1039 404h2v2h-2zM1045 404h2v2h-2zM1051 404h2v2h-2zM1057 404h2v2h-2zM1063 404h2v2h-2zM1069 404h2v2h-2zM1075 404h2v2h-2zM1081 404h2v2h-2zM1087 404h2v2h-2zM1093 404h2v2h-2zM1099 404h2v2h-2zM1105 404h2v2h-2zM1111 404h2v2h-2zM1117 404h2v2h-2zM1123 404h2v2h-2zM1129 404h2v2h-2zM1135 404h2v2h-2zM1141 404h2v2h-2zM1147 404h2v2h-2zM1153 404h2v2h-2zM1159 404h2v2h-2zM1165 404h2v2h-2zM1171 404h2v2h-2zM1177 404h2v2h-2zM1183 404h2v2h-2zM1189 404h2v2h-2zM1195 404h2v2h-2zM1201 404h2v2h-2zM1207 404h2v2h-2zM1213 404h2v2h-2zM1219 404h2v2h-2zM1225 404h2v2h-2zM1231 404h2v2h-2zM1237 404h2v2h-2zM1243 404h2v2h-2zM1249 404h2v2h-2zM1255 404h2v2h-2zM1261 404h2v2h-2zM1267 404h2v2h-2zM1273 404h2v2h-2zM1279 404h2v2h-2zM1285 404h2v2h-2zM1291 404h2v2h-2zM1297 404h2v2h-2zM1303 404h2v2h-2zM1309 404h2v2h-2zM1315 404h2v2h-2zM1321 404h2v2h-2zM1327 404h2v2h-2zM1333 404h2v2h-2zM1339 404h2v2h-2zM1345 404h2v2h-2zM1351 404h2v2h-2zM1357 404h2v2h-2zM1363 404h2v2h-2zM1369 404h2v2h-2zM1375 404h2v2h-2zM1381 404h2v2h-2zM1387 404h2v2h-2zM1393 404h2v2h-2zM1399 404h2v2h-2zM1405 404h2v2h-2zM1411 404h2v2h-2zM1417 404h2v2h-2zM1423 404h2v2h-2zM1429 404h2v2h-2zM1435 404h2v2h-2zM1441 404h2v2h-2zM1447 404h2v2h-2zM1453 404h2v2h-2zM1459 404h2v2h-2zM1465 404h2v2h-2zM1471 404h2v2h-2zM1477 404h2v2h-2zM1483 404h2v2h-2zM1489 404h2v2h-2zM1495 404h2v2h-2zM1501 404h2v2h-2zM1507 404h2v2h-2zM1513 404h2v2h-2zM1519 404h2v2h-2zM1525 404h2v2h-2zM1531 404h2v2h-2zM1537 404h2v2h-2zM1543 404h2v2h-2zM1549 404h2v2h-2zM1555 404h2v2h-2zM1561 404h2v2h-2zM1567 404h2v2h-2zM1573 404h2v2h-2zM1579 404h2v2h-2zM1585 404h2v2h-2zM1591 404h2v2h-2zM1597 404h2v2h-2zM1603 404h2v2h-2zM1609 404h2v2h-2zM1615 404h2v2h-2zM1621 404h2v2h-2zM1627 404h2v2h-2zM1633 404h2v2h-2zM1639 404h2v2h-2zM1645 404h2v2h-2zM1651 404h2v2h-2zM1657 404h2v2h-2zM1663 404h2v2h-2zM1669 404h2v2h-2zM1675 404h2v2h-2zM1681 404h2v2h-2zM1687 404h2v2h-2zM1693 404h2v2h-2zM1699 404h2v2h-2zM1705 404h2v2h-2zM1711 404h2v2h-2zM1717 404h2v2h-2zM1723 404h2v2h-2zM1729 404h2v2h-2zM1735 404h2v2h-2zM1741 404h2v2h-2zM1747 404h2v2h-2zM1753 404h2v2h-2zM1759 404h2v2h-2zM1765 404h2v2h-2zM1771 404h2v2h-2zM1777 404h2v2h-2zM1783 404h2v2h-2zM1789 404h2v2h-2zM1795 404h2v2h-2zM1801 404h2v2h-2zM1807 404h2v2h-2zM1813 404h2v2h-2zM1819 404h2v2h-2zM1825 404h2v2h-2zM1831 404h2v2h-2zM1837 404h2v2h-2zM1843 404h2v2h-2zM1849 404h2v2h-2zM1855 404h2v2h-2zM1861 404h2v2h-2zM1867 404h2v2h-2zM1873 404h2v2h-2zM1879 404h2v2h-2zM1885 404h2v2h-2zM1891 404h2v2h-2zM1897 404h2v2h-2zM1903 404h2v2h-2zM1909 404h2v2h-2zM1915 404h2v2h-2zM1921 404h2v2h-2zM1927 404h2v2h-2zM1933 404h2v2h-2zM1939 404h2v2h-2zM1945 404h2v2h-2zM1951 404h2v2h-2zM1957 404h2v2h-2zM1963 404h2v2h-2zM1969 404h2v2h-2zM1975 404h2v2h-2zM1981 404h2v2h-2zM1987 404h2v2h-2zM1993 404h2v2h-2zM1999 404h2v2h-2zM2005 404h2v2h-2zM2011 404h2v2h-2zM2017 404h2v2h-2zM2023 404h2v2h-2zM2029 404h2v2h-2zM2035 404h2v2h-2zM2041 404h2v2h-2zM2047 404h2v2h-2z"/>
<polyline points="25.9,787.5 39.6,786.0 53.3,795.5 67.0,800.2 80.7,803.6 94.4,803.8 108.1,800.7 121.8,799.8 135.5,801.3 149.2,802.3 162.9,792.0 176.6,785.3 190.4,778.0 204.1,772.4 217.8,770.8 231.5,772.4 245.2,770.6 258.9,772.4 272.6,762.9 286.3,759.5 300.0,768.3 313.7,764.0 327.4,760.6 341.1,771.2 354.8,775.1 368.5,784.8 382.2,792.7 395.9,800.7 409.6,796.1 423.4,795.0 437.1,796.1 450.8,789.8 464.5,799.5 478.2,798.4 491.9,780.3 505.6,784.2 519.3,780.3 533.0,774.6 546.7,772.6 560.4,771.7 574.1,777.6 587.8,777.3 601.5,776.0 615.2,774.6 628.9,767.8 642.7,766.7 656.4,765.1 670.1,772.8 683.8,770.6 697.5,766.2 711.2,750.6 724.9,749.5 738.6,753.6 752.3,749.9 766.0,759.2 779.7,765.6 793.4,795.7 807.1,805.4 820.8,800.9 834.5,787.1 848.2,782.8 861.9,781.9 875.7,790.0 889.4,789.3 903.1,795.0 916.8,789.3 930.5,786.0 944.2,797.5 957.9,795.7 971.6,790.5 985.3,788.2 999.0,802.9 1012.7,802.5 1026.4,815.4 1040.1,831.9 1053.8,838.0 1067.5,834.6 1081.2,832.6 1095.0,825.6 1108.7,820.1 1122.4,833.5 1136.1,849.6 1149.8,842.6 1163.5,834.6 1177.2,829.2 1190.9,833.0 1204.6,843.2 1218.3,831.7 1232.0,832.1 1245.7,836.2 1259.4,842.3 1273.1,828.0 1286.8,826.3 1300.5,812.9 1314.2,812.9 1328.0,810.4 1341.7,805.0 1355.4,799.8 1369.1,792.3 1382.8,789.3 1396.5,795.7 1410.2,793.9 1423.9,790.7 1437.6,794.1 1451.3,778.9 1465.0,785.3 1478.7,777.8 1492.4,776.2 1506.1,781.0 1519.8,785.0 1533.5,779.2 1547.2,776.0 1561.0,783.0 1574.7,786.0 1588.4,790.0 1602.1,808.6 1615.8,804.0 1629.5,797.3 1643.2,778.0 1656.9,771.7 1670.6,779.6 1684.3,795.9 1698.0,782.8 1711.7,775.1 1725.4,765.3 1739.1,763.3 1752.8,763.1 1766.5,770.8 1780.2,772.6 1794.0,773.3 1807.7,828.1 1821.4,836.0 1835.1,836.2 1848.8,837.1 1862.5,829.4 1876.2,824.9 1889.9,832.8 1903.6,836.2 1917.3,837.1 1931.0,840.5 1944.7,831.7" fill="none" stroke="#9d57c1" stroke-width="2.4" stroke-linejoin="round"/>
<polyline points="25.4,911.3 38,905.3 67,903 110.6,903 146.8,901.7 174,898.4 201,892.6 219,887.5 237,885.4 259,883.2 282.7,878.1 300.8,876.3 328,873.2 355,874.1 373,877.6 400,882.6 436,888.1 478,892.6 508.7,889.3 536,887.2 559.4,885 581,885 617,885 653.6,883.9 697,884.3 722.5,879 753,875.9 778.6,875.9 798,881.4 820,886.3 834,886.3 861.5,885.4 888.7,887.5 903,889.3 928.5,889.9 957.5,892.6 983,892.6 1012,895.3 1028,898.4 1048,905.3 1062.6,908.9 1079,912.5 1097,913.8 1109.7,913.8 1124,916.5 1135,920.7 1151,923.8 1166,924.9 1189,925.6 1205,928.3 1232.5,928.5 1259.6,930.7 1286.8,928.5 1314,923.4 1341,918.3 1363,912.5 1382.8,908 1413.6,903.5 1437,902 1450,898.4 1468,896.2 1491.5,892.6 1513,891.2 1540,889.5 1560,888.9 1585.8,890.3 1609.7,893.9 1629.7,895.5 1649.6,891.5 1669.5,888.5 1685.5,889.3 1699.4,887.5 1713.4,884.9 1725.3,879.9 1739.3,875.9 1753.2,872.6 1767.2,871.4 1793,871.4 1807,880.9 1821,892.9 1835,900.9 1848,908.8 1862.8,912.8 1876.8,915.8 1890.7,919.8 1904.7,923.8 1917.6,926.8 1930.6,929.8 1945.5,930.7" fill="none" stroke="#2196f3" stroke-width="2.4" stroke-linejoin="round" stroke-linecap="round"/>
<polyline points="25.4,918.5 43.5,914.3 67,911.3 92.5,908 128.7,905.3 165,903.5 201,899 237,893.5 273.6,888.1 310,882.6 337,879.6 364,878.1 382,878.1 400,879 436,883.2 478,887.2 508.7,888.6 536,888.1 563,887.2 617,886.3 653.6,885.4 697,885.4 726,883.9 753,880.8 780,878.8 800,879 816,881.4 852.5,883.6 907,886.3 961,889 1006.4,891.7 1033.6,894 1060.8,898.4 1088,902.9 1115,907.1 1142,911.6 1160,914.9 1187,918.9 1214,922.5 1241.5,924.9 1268.7,927 1290,927.6 1314,926.1 1341,923.8 1368,919.8 1395.5,915.3 1422.7,911.6 1450,907.5 1477,903.5 1504,900.2 1531,896.6 1560,893.3 1589.8,891.9 1629.7,893.3 1669.5,891.5 1699.4,890.3 1713.4,889.5 1739.3,884.9 1767.2,879.9 1793,877.3 1807,877.9 1821,881.5 1835,885.5 1848,889.9 1862.8,894.3 1876.8,898.5 1890.7,902.2 1904.7,906.4 1917.6,909.8 1930.6,914.4 1945.5,917.8" fill="none" stroke="#ff6d00" stroke-width="2.4" stroke-linejoin="round" stroke-linecap="round"/>
<g fill="#ecedf3" shape-rendering="crispEdges">
<rect x="24" y="24" width="2160" height="2"/>
<rect x="24" y="1008" width="2160" height="2"/>
<rect x="24" y="24" width="2" height="986"/>
<rect x="2182" y="24" width="2" height="986"/>
</g>
<g fill="#dfe2eb" shape-rendering="crispEdges">
<rect x="26" y="735" width="2156" height="2"/>
<rect x="26" y="862" width="2156" height="2"/>
</g>
<text x="2068.68" y="100.9" font-size="30.4" fill="#131722" stroke="#131722" stroke-width="0.5" textLength="89.04" lengthAdjust="spacingAndGlyphs">151.00</text>
<text x="2068.68" y="181.9" font-size="30.4" fill="#131722" stroke="#131722" stroke-width="0.5" textLength="89.04" lengthAdjust="spacingAndGlyphs">150.00</text>
<text x="2068.68" y="263.6" font-size="30.4" fill="#131722" stroke="#131722" stroke-width="0.5" textLength="89.04" lengthAdjust="spacingAndGlyphs">149.00</text>
<text x="2068.68" y="345.3" font-size="30.4" fill="#131722" stroke="#131722" stroke-width="0.5" textLength="89.04" lengthAdjust="spacingAndGlyphs">148.00</text>
<text x="2068.68" y="508.6" font-size="30.4" fill="#131722" stroke="#131722" stroke-width="0.5" textLength="89.04" lengthAdjust="spacingAndGlyphs">146.00</text>
<text x="2068.68" y="590.3" font-size="30.4" fill="#131722" stroke="#131722" stroke-width="0.5" textLength="89.04" lengthAdjust="spacingAndGlyphs">145.00</text>
<text x="2068.68" y="671.9" font-size="30.4" fill="#131722" stroke="#131722" stroke-width="0.5" textLength="89.04" lengthAdjust="spacingAndGlyphs">144.00</text>
<text x="2068.07" y="764.8" font-size="30.4" fill="#131722" stroke="#131722" stroke-width="0.5" textLength="74.16" lengthAdjust="spacingAndGlyphs">80.00</text>
<path d="M2048 383H2167a4 4 0 0 1 4 4V423a4 4 0 0 1 -4 4H2048z" fill="#089981"/>
<path d="M2048 427H2167a4 4 0 0 1 4 4V466a4 4 0 0 1 -4 4H2048z" fill="#2196f3"/>
<text x="2068.29" y="416.1" font-size="30.4" fill="#fff" stroke="#fff" stroke-width="0.5" textLength="88.79" lengthAdjust="spacingAndGlyphs">147.13</text>
<text x="2068.27" y="458.8" font-size="30.4" fill="#fff" stroke="#fff" stroke-width="0.5" textLength="89.41" lengthAdjust="spacingAndGlyphs">146.66</text>
<path d="M2048 810H2152a4 4 0 0 1 4 4V850a4 4 0 0 1 -4 4H2048z" fill="#9d57c1"/>
<text x="2068.37" y="843" font-size="30.4" fill="#fff" stroke="#fff" stroke-width="0.5" textLength="74.47" lengthAdjust="spacingAndGlyphs">38.00</text>
<g clip-path="url(#pane3)"><defs><clipPath id="pane3"><rect x="2048" y="864" width="134" height="76"/></clipPath></defs>
<path d="M2048 853H2152a4 4 0 0 1 4 4V893a4 4 0 0 1 -4 4H2048z" fill="#ff6d00"/>
<path d="M2048 897H2152a4 4 0 0 1 4 4V934.5a4 4 0 0 1 -4 4H2048z" fill="#fccbcd"/>
<path d="M2048 938H2152a4 4 0 0 1 4 4V976a4 4 0 0 1 -4 4H2048z" fill="#2196f3"/>
</g>
<text x="2067.98" y="885.8" font-size="30.4" fill="#fff" stroke="#fff" stroke-width="0.5" textLength="71.37" lengthAdjust="spacingAndGlyphs">−0.21</text>
<text x="2067.92" y="928.8" font-size="30.4" fill="#000" stroke="#000" stroke-width="0.5" textLength="74.68" lengthAdjust="spacingAndGlyphs">−0.26</text>
<text x="59.14" y="984.9" font-size="30.4" fill="#131722" stroke="#131722" stroke-width="0.5" textLength="16.39" lengthAdjust="spacingAndGlyphs">4</text>
<text x="318.62" y="984.9" font-size="30.4" fill="#131722" stroke="#131722" stroke-width="0.5" textLength="16.97" lengthAdjust="spacingAndGlyphs">9</text>
<text x="558.54" y="984.9" font-size="30.4" fill="#131722" stroke="#131722" stroke-width="0.5" textLength="31.30" lengthAdjust="spacingAndGlyphs">13</text>
<text x="819.49" y="984.9" font-size="30.4" fill="#131722" stroke="#131722" stroke-width="0.5" textLength="32.18" lengthAdjust="spacingAndGlyphs">17</text>
<text x="1078.13" y="984.9" font-size="30.4" fill="#131722" stroke="#131722" stroke-width="0.5" textLength="32.56" lengthAdjust="spacingAndGlyphs">22</text>
<text x="1325.56" y="984.9" font-size="30.4" fill="#131722" stroke="#131722" stroke-width="0.5" textLength="31.69" lengthAdjust="spacingAndGlyphs">25</text>
<text x="1523.58" y="984.9" font-size="30.4" fill="#131722" stroke="#131722" stroke-width="0.5" textLength="74.71" lengthAdjust="spacingAndGlyphs">12:00</text>
<text x="1739.92" y="984.9" font-size="30.4" fill="#131722" stroke="#131722" stroke-width="0.5" font-weight="bold" textLength="54.12" lengthAdjust="spacingAndGlyphs">Aug</text>
<text x="2017.66" y="984.9" font-size="30.4" fill="#131722" stroke="#131722" stroke-width="0.5" textLength="16.49" lengthAdjust="spacingAndGlyphs">6</text>
<g fill="#131722"><path d="M25 1039.4H43.85V1063.6H34.4V1049.1H25zM62.1 1039.4H73.9L63.9 1063.6H52.9z"/><circle cx="52.7" cy="1044.7" r="5.3"/></g>
<text x="82.20" y="1065" font-size="34" fill="#131722" stroke="#131722" stroke-width="0" textLength="175.91" lengthAdjust="spacingAndGlyphs">TradingView</text>
</svg></body></html>
